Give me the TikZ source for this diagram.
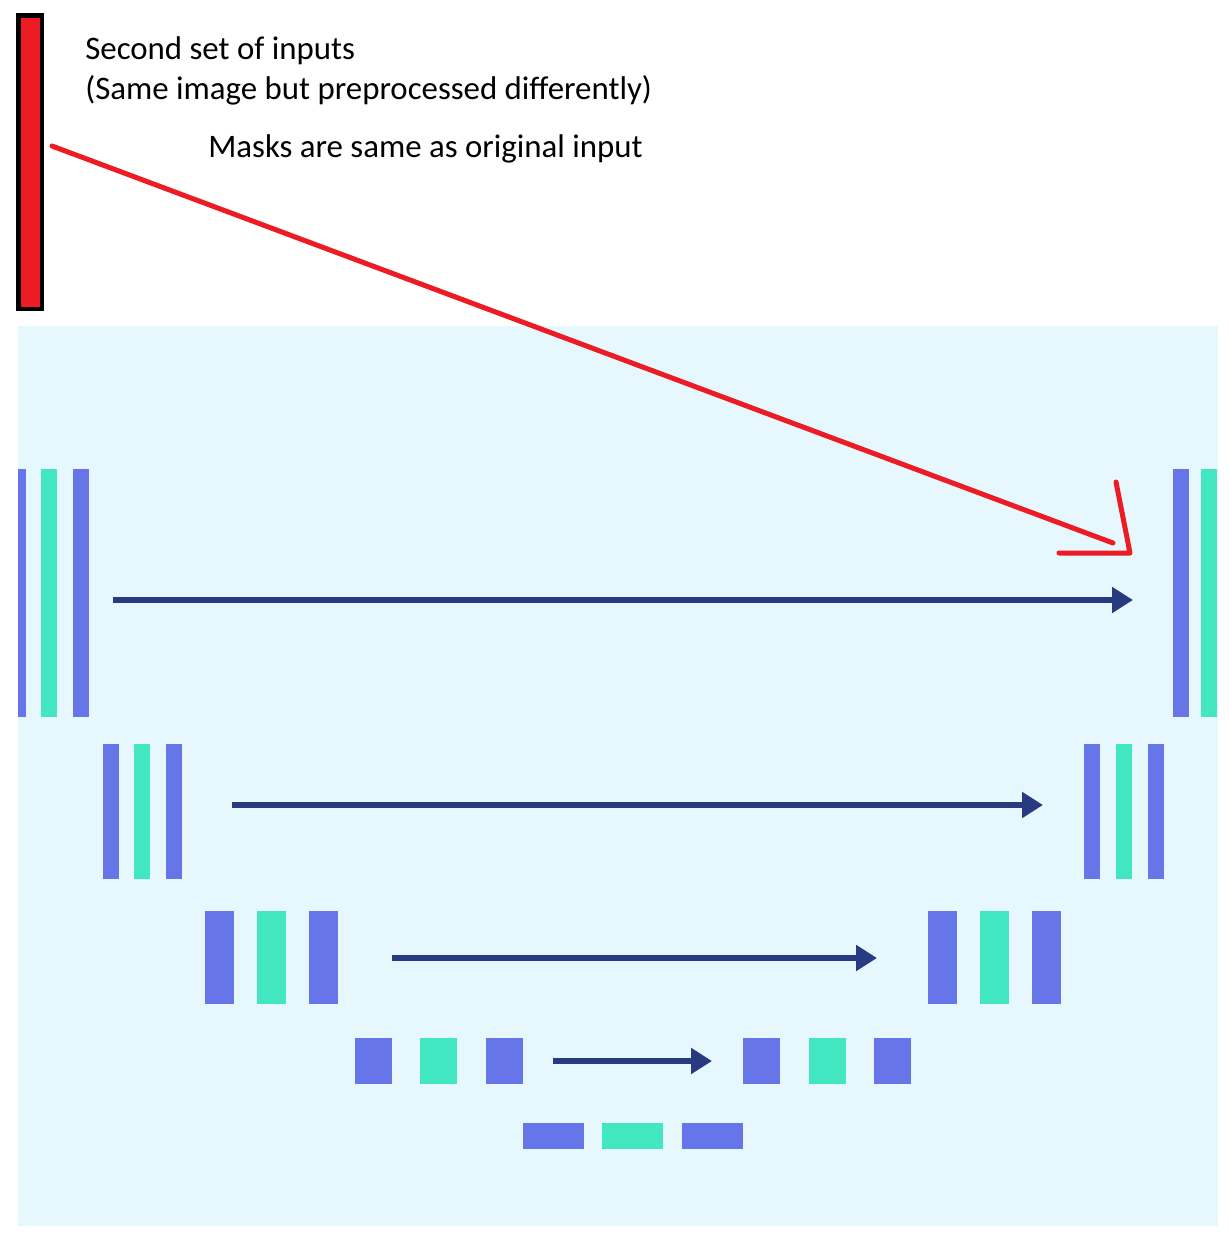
\documentclass[tikz,border=0pt]{standalone}
\usepackage{fontspec}
\setmainfont{Carlito}
\usepackage{tikz}
\usetikzlibrary{arrows.meta, positioning}
\definecolor{skyback}{RGB}{230,247,254}
\definecolor{convblue}{RGB}{102,117,232}
\definecolor{convgreen}{RGB}{66,230,192}
\definecolor{skipnavy}{RGB}{40,58,128}
\definecolor{markred}{RGB}{237,28,36}

\begin{document}
\begin{tikzpicture}[x=0.02cm, y=-0.02cm,
    skip/.style={draw=skipnavy, line width=0.12cm, -{Triangle[length=0.42cm, width=0.5cm]}},
    bl/.style={fill=convblue, inner sep=0pt, outer sep=0pt},
    gr/.style={fill=convgreen, inner sep=0pt, outer sep=0pt},
    lab/.style={inner sep=0pt, anchor=base west, font=\fontsize{18.7}{22}\selectfont}]
    \def\px{0.02cm}
    \useasboundingbox (0,0) rectangle (1228,1238);
    % backdrop of the net
    \fill[skyback] (18,326) rectangle (1218,1226);
    % second input, notes
    \node[draw=black, fill=markred, line width=4.5*\px, inner sep=0pt,
          minimum width=23.5*\px, minimum height=293.5*\px] (inp2) at (30,162) {};
    \node[lab] (note1) at (85,59) {Second set of inputs};
    \node[lab] (note2) at (85,99) {(Same image but preprocessed differently)};
    \node[lab] (note3) at (208,157) {Masks are same as original input};
    % level 1
    \node[bl, minimum width=8*\px, minimum height=248*\px] (l1a) at (22,593) {};
    \node[gr, minimum width=16*\px, minimum height=248*\px] (l1b) at (49,593) {};
    \node[bl, minimum width=16*\px, minimum height=248*\px] (l1c) at (81,593) {};
    \node[bl, minimum width=16*\px, minimum height=248*\px] (r1a) at (1181,593) {};
    \node[gr, minimum width=16*\px, minimum height=248*\px] (r1b) at (1209,593) {};
    % level 2
    \node[bl, minimum width=16*\px, minimum height=135*\px] (l2a) at (111,811.5) {};
    \node[gr, minimum width=16*\px, minimum height=135*\px] (l2b) at (142,811.5) {};
    \node[bl, minimum width=16*\px, minimum height=135*\px] (l2c) at (174,811.5) {};
    \node[bl, minimum width=16*\px, minimum height=135*\px] (r2a) at (1092,811.5) {};
    \node[gr, minimum width=16*\px, minimum height=135*\px] (r2b) at (1124,811.5) {};
    \node[bl, minimum width=16*\px, minimum height=135*\px] (r2c) at (1156,811.5) {};
    % level 3
    \node[bl, minimum width=29*\px, minimum height=93*\px] (l3a) at (219.5,957.5) {};
    \node[gr, minimum width=29*\px, minimum height=93*\px] (l3b) at (271.5,957.5) {};
    \node[bl, minimum width=29*\px, minimum height=93*\px] (l3c) at (323.5,957.5) {};
    \node[bl, minimum width=29*\px, minimum height=93*\px] (r3a) at (942.5,957.5) {};
    \node[gr, minimum width=29*\px, minimum height=93*\px] (r3b) at (994.5,957.5) {};
    \node[bl, minimum width=29*\px, minimum height=93*\px] (r3c) at (1046.5,957.5) {};
    % level 4
    \node[bl, minimum width=37*\px, minimum height=46*\px] (l4a) at (373.5,1061) {};
    \node[gr, minimum width=37*\px, minimum height=46*\px] (l4b) at (438.5,1061) {};
    \node[bl, minimum width=37*\px, minimum height=46*\px] (l4c) at (504.5,1061) {};
    \node[bl, minimum width=37*\px, minimum height=46*\px] (r4a) at (761.5,1061) {};
    \node[gr, minimum width=37*\px, minimum height=46*\px] (r4b) at (827.5,1061) {};
    \node[bl, minimum width=37*\px, minimum height=46*\px] (r4c) at (892.5,1061) {};
    % bottom
    \node[bl, minimum width=61*\px, minimum height=26*\px] (b5a) at (553.5,1136) {};
    \node[gr, minimum width=61*\px, minimum height=26*\px] (b5b) at (632.5,1136) {};
    \node[bl, minimum width=61*\px, minimum height=26*\px] (b5c) at (712.5,1136) {};
    % skip connections
    \coordinate (s1) at (113,600);  \coordinate (e1) at (1133,600);
    \coordinate (s2) at (232,805);  \coordinate (e2) at (1043,805);
    \coordinate (s3) at (392,958);  \coordinate (e3) at (877,958);
    \coordinate (s4) at (553,1061); \coordinate (e4) at (712,1061);
    \draw[skip] (s1) -- (e1);
    \draw[skip] (s2) -- (e2);
    \draw[skip] (s3) -- (e3);
    \draw[skip] (s4) -- (e4);
    % red hand-drawn pointer
    \coordinate (rs) at (52,146);
    \coordinate (re) at (1113,543);
    \coordinate (rh1) at (1116,482);
    \coordinate (rtip) at (1130,553);
    \coordinate (rh2) at (1059,553);
    \draw[markred, line width=5*\px, line cap=round] (rs) -- (re);
    \draw[markred, line width=5*\px, line cap=round, line join=round] (rh1) -- (rtip) -- (rh2);
\end{tikzpicture}
\end{document}
